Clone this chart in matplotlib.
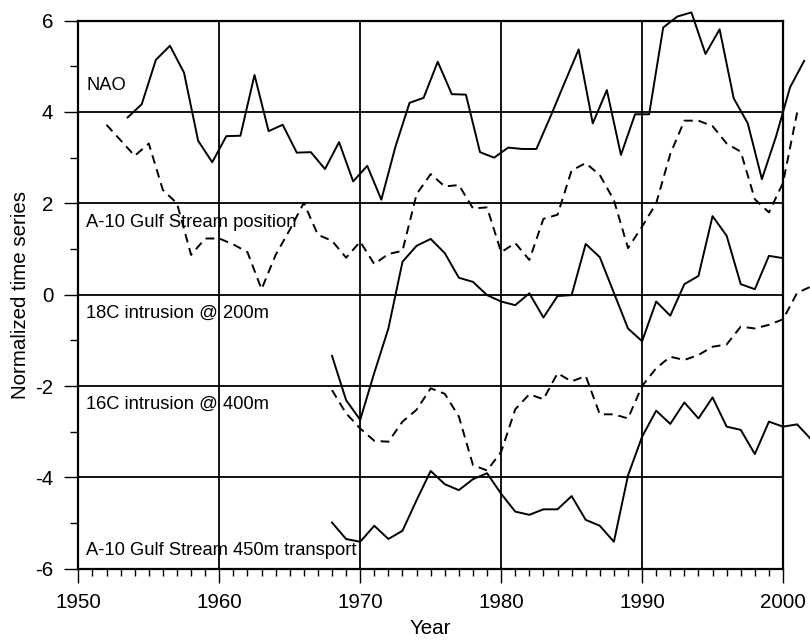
import matplotlib
matplotlib.use('Agg')
import matplotlib.pyplot as plt
import numpy as np
from matplotlib.ticker import MultipleLocator

plt.rcParams['font.family'] = ['Liberation Sans', 'DejaVu Sans']
plt.rcParams['axes.unicode_minus'] = False

# NAO index is plotted at mid-year
nao_years = np.arange(1953, 2002)
nao = [3.88, 4.17, 5.14, 5.45, 4.86, 3.37, 2.90, 3.47, 3.48, 4.81,
       3.58, 3.72, 3.11, 3.12, 2.75, 3.34, 2.48, 2.82, 2.08, 3.24,
       4.20, 4.31, 5.10, 4.39, 4.38, 3.12, 3.00, 3.22, 3.19, 3.19,
       3.90, 4.64, 5.37, 3.75, 4.48, 3.06, 3.95, 3.95, 5.85, 6.09,
       6.18, 5.27, 5.81, 4.30, 3.75, 2.53, 3.46, 4.54, 5.12]

# A-10 Gulf Stream position
gs_years = np.arange(1952, 2002)
gs_pos = [3.72, 3.38, 3.04, 3.31, 2.29, 2.00, 0.87, 1.23, 1.23, 1.10,
          0.93, 0.12, 0.87, 1.42, 2.01, 1.31, 1.18, 0.81, 1.16, 0.67,
          0.89, 0.96, 2.20, 2.64, 2.37, 2.40, 1.89, 1.91, 0.93, 1.13,
          0.76, 1.66, 1.75, 2.72, 2.88, 2.62, 2.07, 1.02, 1.49, 2.00,
          3.08, 3.81, 3.81, 3.69, 3.31, 3.13, 2.09, 1.80, 2.45, 3.99]

# 18C intrusion @ 200m
i18_years = np.arange(1968, 2001)
i18 = [-1.34, -2.31, -2.74, -1.71, -0.74, 0.72, 1.07, 1.22, 0.91, 0.37,
       0.28, -0.01, -0.15, -0.23, 0.03, -0.50, -0.03, -0.01, 1.11, 0.82,
       0.04, -0.74, -1.02, -0.15, -0.46, 0.23, 0.41, 1.72, 1.29, 0.23,
       0.12, 0.85, 0.80]

# 16C intrusion @ 400m
i16_years = np.arange(1968, 2003)
i16 = [-2.09, -2.60, -2.93, -3.20, -3.22, -2.78, -2.52, -2.05, -2.17, -2.67,
       -3.73, -3.85, -3.44, -2.51, -2.18, -2.29, -1.72, -1.90, -1.78, -2.62,
       -2.62, -2.71, -2.00, -1.61, -1.36, -1.43, -1.32, -1.14, -1.09, -0.70,
       -0.74, -0.66, -0.54, 0.04, 0.18]

# A-10 Gulf Stream 450m transport
tr_years = np.arange(1968, 2003)
transport = [-4.99, -5.35, -5.41, -5.06, -5.35, -5.17, -4.50, -3.86, -4.15, -4.28,
             -4.04, -3.91, -4.36, -4.75, -4.82, -4.70, -4.70, -4.41, -4.93, -5.06,
             -5.41, -3.96, -3.11, -2.54, -2.83, -2.36, -2.71, -2.25, -2.89, -2.96,
             -3.49, -2.78, -2.89, -2.84, -3.17]

labels = ['NAO', 'A-10 Gulf Stream position', '18C intrusion @ 200m',
          '16C intrusion @ 400m', 'A-10 Gulf Stream 450m transport']
label_y = [4.48, 1.49, -0.50, -2.50, -5.71]

fig = plt.figure(figsize=(8.1, 6.41), dpi=100)
ax = fig.add_axes([0.0967, 0.1128, 0.87, 0.855])

dash = (0, (4.5, 3))
lw = 1.4
ax.plot(nao_years + 0.5, nao, color='black', lw=lw, clip_on=False, zorder=3)
ax.plot(gs_years, gs_pos, color='black', lw=lw, ls=dash, clip_on=False, zorder=3)
ax.plot(i18_years, i18, color='black', lw=lw, clip_on=False, zorder=3)
ax.plot(i16_years, i16, color='black', lw=lw, ls=dash, clip_on=False, zorder=3)
ax.plot(tr_years, transport, color='black', lw=lw, clip_on=False, zorder=3)

for txt, y in zip(labels, label_y):
    ax.text(1950.55, y, txt, fontsize=13.2, va='baseline', ha='left', zorder=4)

ax.set_xlim(1950, 2000)
ax.set_ylim(-6, 6)
ax.xaxis.set_major_locator(MultipleLocator(10))
ax.xaxis.set_minor_locator(MultipleLocator(1))
ax.yaxis.set_major_locator(MultipleLocator(2))
ax.yaxis.set_minor_locator(MultipleLocator(1))
ax.grid(True, which='major', color='black', lw=1.3, zorder=1)
ax.set_axisbelow(True)

for s in ax.spines.values():
    s.set_linewidth(1.6)

ax.tick_params(which='major', length=10, width=1.0, labelsize=14.8, color='black')
ax.tick_params(axis='x', which='major', pad=7.5)
ax.tick_params(axis='y', which='major', pad=8)
ax.tick_params(which='minor', length=5, width=1.0)
ax.tick_params(axis='y', which='minor', length=6)

ax.set_xlabel('Year', fontsize=14.8, labelpad=5)
ax.set_ylabel('Normalized time series', fontsize=14.8, labelpad=4)

fig.savefig('out.png', dpi=100)
